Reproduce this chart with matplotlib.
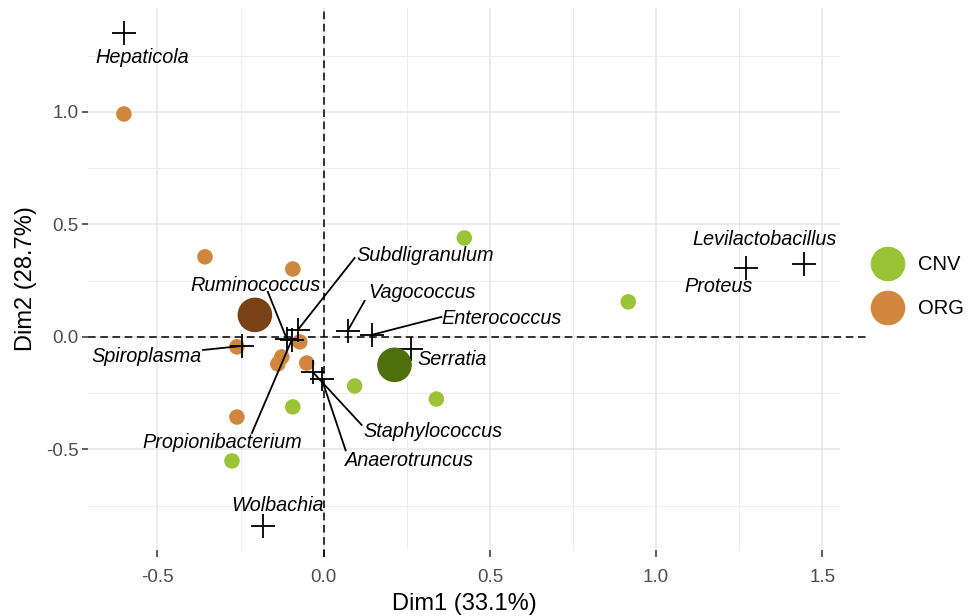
import matplotlib
matplotlib.use("Agg")
import matplotlib.pyplot as plt
from matplotlib.ticker import MultipleLocator, FormatStrFormatter

plt.rcParams['font.family'] = ['Liberation Sans', 'DejaVu Sans']

# ---- data ----
groups = ["CNV", "ORG"]
group_colors = ["#9AC337", "#D0863C"]
centroid_colors = ["#4F6E0D", "#7A4214"]

org_x = [-0.601, -0.357, -0.093, -0.261, -0.072, -0.126, -0.138, -0.051, -0.261]
org_y = [0.991, 0.356, 0.302, -0.044, -0.022, -0.089, -0.120, -0.116, -0.356]
cnv_x = [0.423, 0.916, 0.093, 0.339, -0.093, -0.276]
cnv_y = [0.440, 0.156, -0.218, -0.276, -0.311, -0.551]
centroid_x = [0.213, -0.207]   # CNV, ORG
centroid_y = [-0.124, 0.098]

genera = ["Hepaticola", "Levilactobacillus", "Proteus", "Subdligranulum", "Ruminococcus",
          "Propionibacterium", "Vagococcus", "Enterococcus", "Spiroplasma", "Serratia",
          "Staphylococcus", "Anaerotruncus", "Wolbachia"]
genus_x = [-0.601, 1.444, 1.270, -0.078, -0.111, -0.096, 0.072, 0.144, -0.246, 0.264,
           -0.033, -0.006, -0.183]
genus_y = [1.351, 0.324, 0.307, 0.031, -0.009, -0.013, 0.027, 0.009, -0.040, -0.053,
           -0.156, -0.187, -0.840]
# label centres (repelled text positions)
label_x = [-0.545, 1.327, 1.189, 0.306, -0.204, -0.306, 0.297, 0.535, -0.532, 0.387,
           0.330, 0.258, -0.138]
label_y = [1.244, 0.431, 0.222, 0.364, 0.227, -0.471, 0.196, 0.080, -0.089, -0.102,
           -0.422, -0.547, -0.747]
# leader segment ends at label (None = no segment)
seg_x = [None, None, None, 0.093, -0.168, -0.216, 0.123, 0.354, -0.363, None, 0.114, 0.066, None]
seg_y = [None, None, None, 0.351, 0.200, -0.427, 0.160, 0.089, -0.058, None, -0.391, -0.504, None]

xlabel = "Dim1 (33.1%)"
ylabel = "Dim2 (28.7%)"

W, H = 973, 616
fig = plt.figure(figsize=(W / 100, H / 100), dpi=100)
L, R, T, B = 88, 840, 8, 550
ax = fig.add_axes([L / W, 1 - B / H, (R - L) / W, (B - T) / H])
ax.set_xlim(-0.709, 1.553)
ax.set_ylim(-0.947, 1.462)

for s in ax.spines.values():
    s.set_visible(False)
ax.xaxis.set_major_locator(MultipleLocator(0.5))
ax.xaxis.set_minor_locator(MultipleLocator(0.25))
ax.yaxis.set_major_locator(MultipleLocator(0.5))
ax.yaxis.set_minor_locator(MultipleLocator(0.25))
ax.grid(which='major', color='#E6E6E6', lw=1.1)
ax.grid(which='minor', color='#EDEDED', lw=0.8)
ax.set_axisbelow(True)
ax.tick_params(axis='x', which='major', length=5, width=1.1, color='#333333', labelsize=13.5,
               labelcolor='#4D4D4D', pad=9)
ax.tick_params(axis='y', which='major', length=4.5, width=1.1, color='#333333', labelsize=13.5,
               labelcolor='#4D4D4D', pad=2)
ax.tick_params(which='minor', length=0)
ax.xaxis.set_major_formatter(FormatStrFormatter('%.1f'))
ax.yaxis.set_major_formatter(FormatStrFormatter('%.1f'))

# reference lines
dash = (0, (5, 3))
ax.plot([ax.get_xlim()[0], 1.64], [0, 0], ls=dash, color='black', lw=1.1, clip_on=False, zorder=2)
ax.plot([0, 0], [ax.get_ylim()[0] - 0.03, ax.get_ylim()[1] - 0.015], ls=dash, color='black', lw=1.1,
        clip_on=False, zorder=2)

# individuals
ax.scatter(org_x, org_y, s=125, color=group_colors[1], edgecolors='none', zorder=3)
ax.scatter(cnv_x, cnv_y, s=125, color=group_colors[0], edgecolors='none', zorder=3)

# genera (columns)
ax.scatter(genus_x, genus_y, marker='+', s=300, color='black', linewidths=1.3, zorder=4)
for i, g in enumerate(genera):
    if seg_x[i] is not None:
        ax.plot([genus_x[i], seg_x[i]], [genus_y[i], seg_y[i]], color='black', lw=1.3, zorder=4)
    ax.text(label_x[i], label_y[i], g, fontsize=14.3, style='italic', ha='center', va='center',
            color='black', zorder=5)

# centroids
ax.scatter(centroid_x, centroid_y, s=620, color=centroid_colors, edgecolors='none', zorder=6)

ax.set_xlabel(xlabel, fontsize=17, color='black', labelpad=5)
ax.set_ylabel(ylabel, fontsize=17, color='black', labelpad=7)

# legend
ov = fig.add_axes([0, 0, 1, 1], zorder=10)
ov.set_xlim(0, W)
ov.set_ylim(H, 0)
ov.axis('off')
for k, g in enumerate(groups):
    ov.scatter([888], [264 + 44 * k], s=620, color=group_colors[k], edgecolors='none')
    ov.text(918, 264 + 44 * k, g, fontsize=14.5, ha='left', va='center', color='black')

fig.savefig("out.png", dpi=100)
